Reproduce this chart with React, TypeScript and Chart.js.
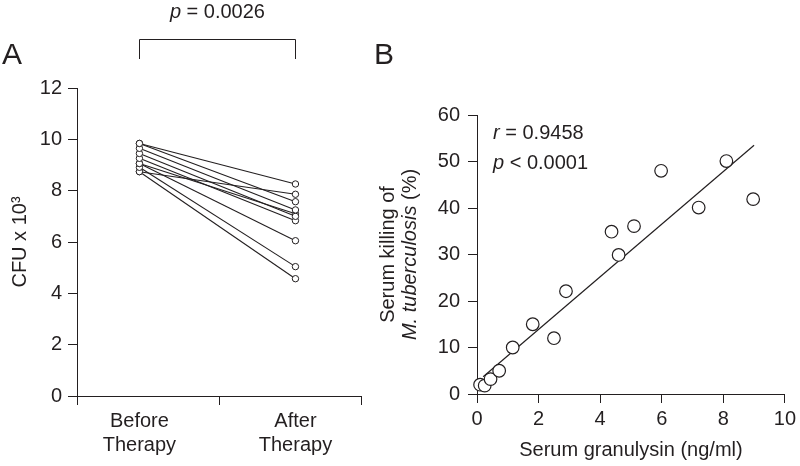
import React, { useEffect, useRef } from 'react';
import { Chart, registerables } from 'chart.js';

Chart.register(...registerables);

const FONT = "'Liberation Sans', Arial, Helvetica, sans-serif";
const INK = '#231f20';

// ---------- Panel A data ----------
const groupLabels = ['Before Therapy', 'After Therapy'];
const groupPositions = [0, 1];
const beforeCFU = [9.84, 9.84, 9.65, 9.45, 9.26, 9.06, 9.06, 8.91, 8.74, 8.74];
const afterCFU = [8.26, 7.57, 7.25, 7.0, 6.83, 7.1, 6.05, 5.04, 7.86, 4.57];
const axisATickValues = [-0.4, 0, 0.51, 1, 1.42];
const pValueA = '= 0.0026';

// ---------- Panel B data ----------
const granulysin = [0.1, 0.25, 0.44, 0.72, 1.16, 1.81, 2.5, 2.89, 4.37, 4.6, 5.1, 5.98, 7.2, 8.1, 8.97];
const killing = [2.0, 1.8, 3.2, 5.0, 10.0, 15.0, 12.0, 22.1, 34.9, 29.9, 36.1, 48.0, 40.1, 50.1, 41.9];
const fitX = [0.2, 9.0];
const fitY = [3.7, 53.5];
const rValue = '= 0.9458';
const pValueB = '< 0.0001';

const tickFont = { family: FONT, size: 20 };

function drawMixed(ctx: CanvasRenderingContext2D, parts: [string, boolean][], x: number, y: number, align: 'left' | 'center', size: number) {
  const fontFor = (it: boolean) => `${it ? 'italic ' : ''}${size}px ${FONT}`;
  let total = 0;
  for (const [t, it] of parts) {
    ctx.font = fontFor(it);
    total += ctx.measureText(t).width;
  }
  let cx = align === 'center' ? x - total / 2 : x;
  ctx.textAlign = 'left';
  for (const [t, it] of parts) {
    ctx.font = fontFor(it);
    ctx.fillText(t, cx, y);
    cx += ctx.measureText(t).width;
  }
}

export default function App() {
  const refA = useRef<HTMLCanvasElement>(null);
  const refB = useRef<HTMLCanvasElement>(null);

  useEffect(() => {
    document.body.style.margin = '0';
    Chart.defaults.font.family = FONT;
    Chart.defaults.color = INK;

    const annoA = {
      id: 'annoA',
      afterDraw(chart: any) {
        const ctx = chart.ctx as CanvasRenderingContext2D;
        const xs = chart.scales.x;
        const x0 = xs.getPixelForValue(groupPositions[0]);
        const x1 = xs.getPixelForValue(groupPositions[1]);
        ctx.save();
        ctx.fillStyle = INK;
        ctx.strokeStyle = INK;
        ctx.lineWidth = 1;
        ctx.beginPath();
        ctx.moveTo(Math.round(x0) + 0.5, 59);
        ctx.lineTo(Math.round(x0) + 0.5, 39.5);
        ctx.lineTo(Math.round(x1) + 0.5, 39.5);
        ctx.lineTo(Math.round(x1) + 0.5, 59);
        ctx.stroke();
        ctx.textBaseline = 'alphabetic';
        drawMixed(ctx, [['p', true], [' ' + pValueA, false]], (x0 + x1) / 2, 18, 'center', 20);
        ctx.font = `30px ${FONT}`;
        ctx.textAlign = 'left';
        ctx.fillText('A', 2, 64);
        ctx.restore();
      },
    };

    const annoB = {
      id: 'annoB',
      afterDraw(chart: any) {
        const ctx = chart.ctx as CanvasRenderingContext2D;
        const area = chart.chartArea;
        const offX = 370;
        ctx.save();
        ctx.fillStyle = INK;
        ctx.textBaseline = 'alphabetic';
        ctx.font = `30px ${FONT}`;
        ctx.textAlign = 'left';
        ctx.fillText('B', 374 - offX, 64);
        // y-axis title (two lines, rotated)
        const cy = (area.top + area.bottom) / 2;
        ctx.save();
        ctx.translate(388 - offX, cy);
        ctx.rotate(-Math.PI / 2);
        ctx.textBaseline = 'middle';
        drawMixed(ctx, [['Serum killing of', false]], 0, 0, 'center', 20);
        ctx.restore();
        ctx.save();
        ctx.translate(410 - offX, cy);
        ctx.rotate(-Math.PI / 2);
        ctx.textBaseline = 'middle';
        drawMixed(ctx, [['M. tuberculosis', true], [' (%)', false]], 0, 0, 'center', 20);
        ctx.restore();
        // statistics
        ctx.textBaseline = 'middle';
        drawMixed(ctx, [['r', true], [' ' + rValue, false]], 493 - offX, 133, 'left', 20);
        drawMixed(ctx, [['p', true], [' ' + pValueB, false]], 493 - offX, 163, 'left', 20);
        ctx.restore();
      },
    };

    const chartA = new Chart(refA.current!, {
      type: 'line',
      data: {
        datasets: beforeCFU.map((b, i) => ({
          data: [
            { x: groupPositions[0], y: b },
            { x: groupPositions[1], y: afterCFU[i] },
          ],
          borderColor: INK,
          borderWidth: 1.1,
          pointRadius: 3.2,
          pointBorderWidth: 1,
          pointBackgroundColor: '#ffffff',
          pointBorderColor: INK,
          fill: false,
          tension: 0,
        })),
      },
      options: {
        responsive: false,
        animation: false,
        events: [],
        layout: { padding: { left: 0, right: 9, top: 88, bottom: 0 } },
        plugins: { legend: { display: false }, tooltip: { enabled: false } },
        scales: {
          x: {
            type: 'linear',
            min: axisATickValues[0],
            max: axisATickValues[axisATickValues.length - 1],
            afterFit: (s: any) => { s.height = 70; },
            afterBuildTicks: (s: any) => { s.ticks = axisATickValues.map((v) => ({ value: v })); },
            ticks: {
              autoSkip: false,
              maxRotation: 0,
              minRotation: 0,
              padding: 4,
              color: INK,
              font: tickFont,
              callback: (v: any) => {
                const i = groupPositions.indexOf(v);
                return i >= 0 ? groupLabels[i].split(' ') : '';
              },
            },
            grid: {
              drawOnChartArea: false,
              drawTicks: true,
              tickLength: 9,
              lineWidth: 1,
              tickColor: (c: any) => (c.tick && groupPositions.includes(c.tick.value) ? 'rgba(0,0,0,0)' : INK),
            },
            border: { display: true, color: INK, width: 1 },
          },
          y: {
            min: 0,
            max: 12,
            afterFit: (s: any) => { s.width = 77; },
            ticks: { stepSize: 2, padding: 6, color: INK, font: tickFont },
            grid: { drawOnChartArea: false, drawTicks: true, tickLength: 9, color: INK, lineWidth: 1 },
            border: { display: true, color: INK, width: 1 },
            title: {
              display: true,
              text: 'CFU x 10³',
              color: INK,
              font: { family: FONT, size: 20 },
              padding: { top: 8, bottom: 0 },
            },
          },
        },
      },
      plugins: [annoA],
    } as any);

    const chartB = new Chart(refB.current!, {
      type: 'scatter',
      data: {
        datasets: [
          {
            type: 'scatter',
            data: granulysin.map((x, i) => ({ x, y: killing[i] })),
            pointRadius: 6.3,
            pointBorderWidth: 1.2,
            pointBackgroundColor: '#ffffff',
            pointBorderColor: INK,
            clip: false,
            order: 0,
          },
          {
            type: 'line',
            data: fitX.map((x, i) => ({ x, y: fitY[i] })),
            borderColor: INK,
            borderWidth: 1.2,
            pointRadius: 0,
            fill: false,
            tension: 0,
            order: 1,
          },
        ],
      },
      options: {
        responsive: false,
        animation: false,
        events: [],
        layout: { padding: { left: 30, right: 15, top: 115, bottom: 0 } },
        plugins: { legend: { display: false }, tooltip: { enabled: false } },
        scales: {
          x: {
            type: 'linear',
            min: 0,
            max: 10,
            afterFit: (s: any) => { s.height = 72; },
            ticks: { stepSize: 2, padding: 4, maxRotation: 0, color: INK, font: tickFont },
            grid: { drawOnChartArea: false, drawTicks: true, tickLength: 9, color: INK, lineWidth: 1 },
            border: { display: true, color: INK, width: 1 },
            title: {
              display: true,
              text: 'Serum granulysin (ng/ml)',
              color: INK,
              font: { family: FONT, size: 20 },
              padding: { top: 0, bottom: 4 },
            },
          },
          y: {
            type: 'linear',
            min: 0,
            max: 60,
            afterFit: (s: any) => { s.width = 77; },
            ticks: { stepSize: 10, padding: 8, color: INK, font: tickFont },
            grid: { drawOnChartArea: false, drawTicks: true, tickLength: 9, color: INK, lineWidth: 1 },
            border: { display: true, color: INK, width: 1 },
          },
        },
      },
      plugins: [annoB],
    } as any);

    return () => {
      chartA.destroy();
      chartB.destroy();
    };
  }, []);

  return (
    <div style={{ position: 'fixed', left: 0, top: 0, width: 800, height: 466, background: '#ffffff' }}>
      <canvas ref={refA} width={370} height={466} style={{ position: 'absolute', left: 0, top: 0 }} />
      <canvas ref={refB} width={430} height={466} style={{ position: 'absolute', left: 370, top: 0 }} />
    </div>
  );
}
